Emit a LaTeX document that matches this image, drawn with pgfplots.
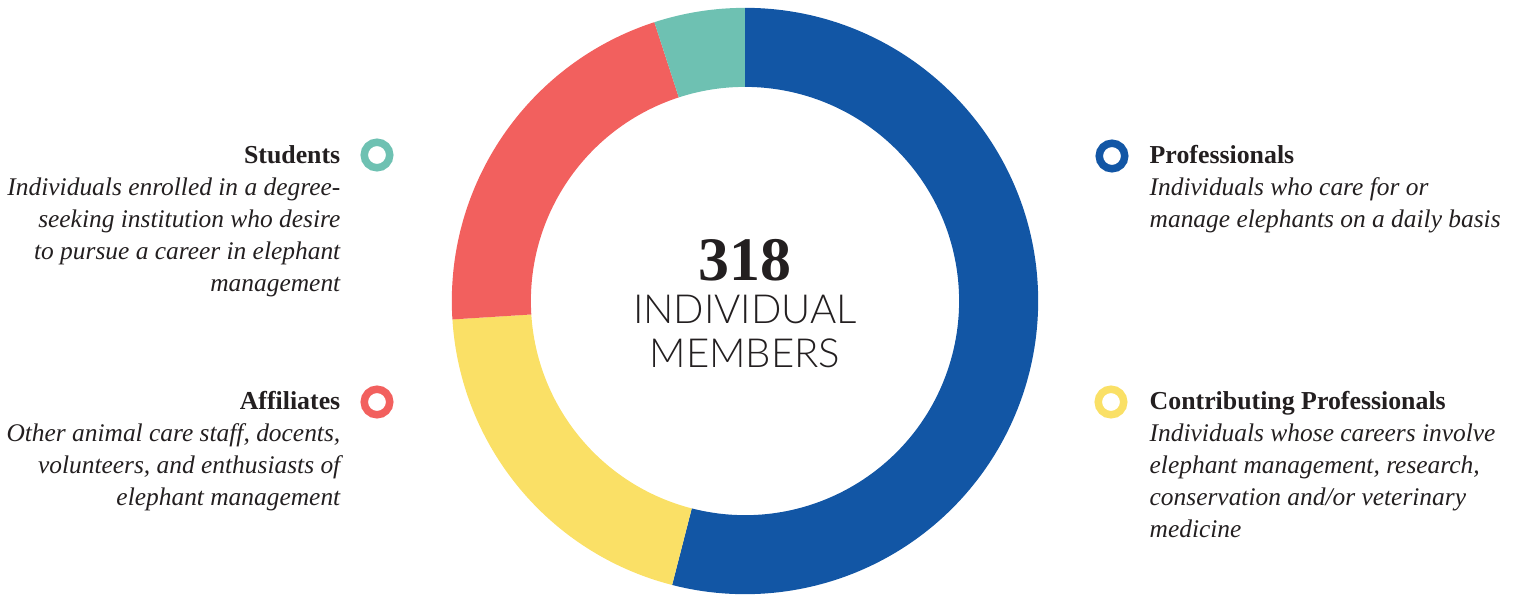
\documentclass[border=0pt]{standalone}
\usepackage{pgfplots}
\pgfplotsset{compat=1.18}
\usepackage{pgfplotstable}
\usetikzlibrary{calc}
\usepackage{fontspec}
\setmainfont{Liberation Serif}
\newfontfamily\lightsans{Lato Light}
\definecolor{cblue}{HTML}{1256A5}
\definecolor{cyellow}{HTML}{FAE066}
\definecolor{cred}{HTML}{F2605E}
\definecolor{cteal}{HTML}{6EC1B2}
\definecolor{ctext}{HTML}{231F20}

\pgfplotstableread{
label value
Professionals 54
Contributing 20
Affiliates 21
Students 5
}\donutdata

\newcommand{\seg}[3]{%
  \fill[#3] ($(axis cs:745,293)+(#1:2.93cm)$) arc[start angle=#1, end angle=#2, radius=2.93cm]
    -- ($(axis cs:745,293)+(#2:2.14cm)$) arc[start angle=#2, end angle=#1, radius=2.14cm] -- cycle;}
\newcommand{\hdx}{\fontsize{7.35}{9}\selectfont\bfseries}
\newcommand{\itx}{\fontsize{7.23}{9}\selectfont\itshape}
\newcommand{\lt}[3]{\node[anchor=base east, inner sep=0pt, text=ctext, font=#1] at (axis cs:341,#2) {#3};}
\newcommand{\rt}[3]{\node[anchor=base west, inner sep=0pt, text=ctext, font=#1] at (axis cs:1149,#2) {#3};}
\newcommand{\ring}[3]{\draw[#1, line width=0.075cm] (axis cs:#2,#3) circle[radius=0.1275cm];}

\begin{document}
\begin{tikzpicture}
\pgfplotstablegetelem{0}{value}\of\donutdata \let\vA\pgfplotsretval
\pgfplotstablegetelem{1}{value}\of\donutdata \let\vB\pgfplotsretval
\pgfplotstablegetelem{2}{value}\of\donutdata \let\vC\pgfplotsretval
\pgfplotstablegetelem{3}{value}\of\donutdata \let\vD\pgfplotsretval
\pgfmathsetmacro{\tot}{\vA+\vB+\vC+\vD}
\pgfmathsetmacro{\aA}{90}
\pgfmathsetmacro{\aB}{\aA-\vA/\tot*360}
\pgfmathsetmacro{\aC}{\aB-\vB/\tot*360}
\pgfmathsetmacro{\aD}{\aC-\vC/\tot*360}
\pgfmathsetmacro{\aE}{\aD-\vD/\tot*360}
\begin{axis}[x=0.01cm, y=0.01cm, xmin=0, xmax=1515, ymin=0, ymax=594,
  hide axis, clip=false, scale only axis]
\draw[draw=none] (axis cs:0,0) rectangle (axis cs:1515,594);
\seg{\aA}{\aB}{cblue}
\seg{\aB}{\aC}{cyellow}
\seg{\aC}{\aD}{cred}
\seg{\aD}{\aE}{cteal}
% centre
\node[anchor=base, inner sep=0pt, text=ctext, font=\fontsize{17.6}{20}\selectfont\bfseries] at (axis cs:745,314) {318};
\node[anchor=base, inner sep=0pt, text=ctext, font=\fontsize{11.4}{13}\selectfont\lightsans] at (axis cs:745,271) {INDIVIDUAL};
\node[anchor=base, inner sep=0pt, text=ctext, font=\fontsize{11.4}{13}\selectfont\lightsans] at (axis cs:745,227) {MEMBERS};
% legend rings
\ring{cteal}{377}{439}
\ring{cred}{377}{192}
\ring{cblue}{1112}{438}
\ring{cyellow}{1111}{192}
% Students
\lt{\hdx}{431}{Students}
\lt{\itx}{399}{Individuals enrolled in a degree-}
\lt{\itx}{367}{seeking institution who desire}
\lt{\itx}{335}{to pursue a career in elephant}
\lt{\itx}{303}{management}
% Affiliates
\lt{\hdx}{185}{Affiliates}
\lt{\itx}{153}{Other animal care staff, docents,}
\lt{\itx}{121}{volunteers, and enthusiasts of}
\lt{\itx}{89}{elephant management}
% Professionals
\rt{\hdx}{431}{Professionals}
\rt{\itx}{399}{Individuals who care for or}
\rt{\itx}{367}{manage elephants on a daily basis}
% Contributing
\rt{\hdx}{185}{Contributing Professionals}
\rt{\itx}{153}{Individuals whose careers involve}
\rt{\itx}{121}{elephant management, research,}
\rt{\itx}{89}{conservation and/or veterinary}
\rt{\itx}{57}{medicine}
\end{axis}
\end{tikzpicture}
\end{document}
